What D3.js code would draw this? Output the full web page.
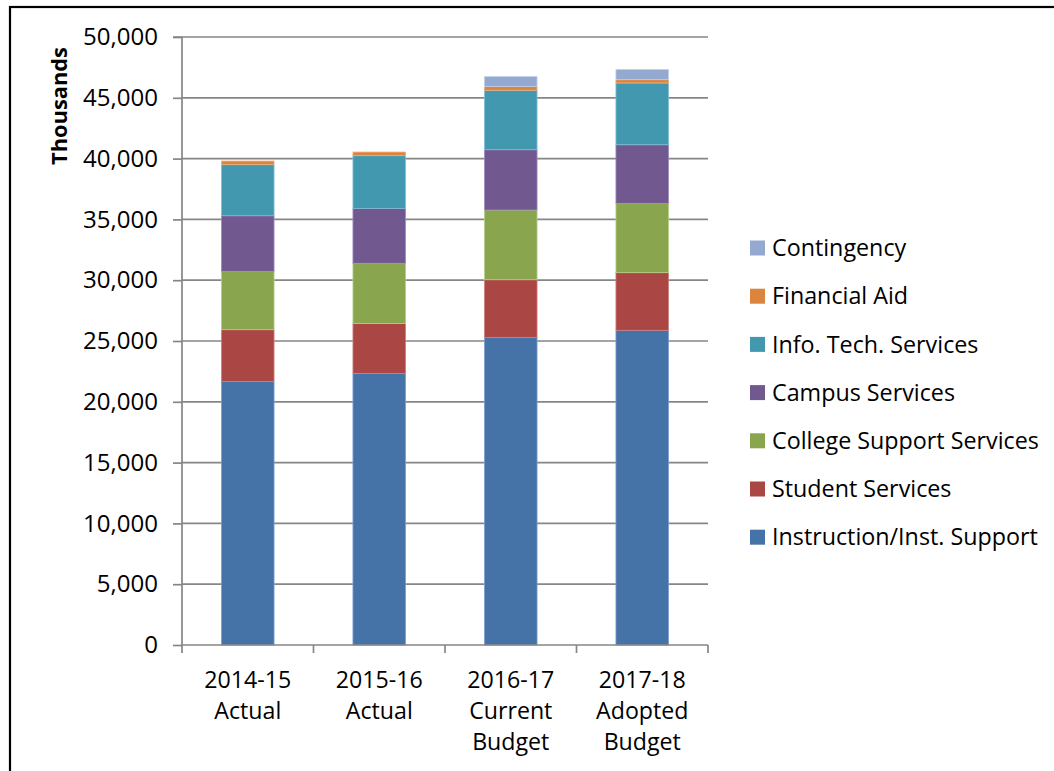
<!DOCTYPE html>
<html>
<head>
<meta charset="utf-8">
<script src="https://cdn.jsdelivr.net/npm/d3@7"></script>
<style>
  html, body { margin: 0; padding: 0; background: #fff; }
  svg { display: block; font-family: "Open Sans", Lato, sans-serif; }
</style>
</head>
<body>
<svg id="chart" width="1054" height="771"></svg>
<script>
// ---- Data (thousands) ----
const categories = [["2014-15", "Actual"], ["2015-16", "Actual"], ["2016-17", "Current", "Budget"], ["2017-18", "Adopted", "Budget"]];
const seriesNames = ["Instruction/Inst. Support", "Student Services", "College Support Services", "Campus Services", "Info. Tech. Services", "Financial Aid", "Contingency"];
const instruction = [21680, 22340, 25300, 25880];
const studentServices = [4250, 4090, 4740, 4740];
const collegeSupport = [4800, 4960, 5730, 5700];
const campusServices = [4570, 4520, 4960, 4820];
const infoTech = [4200, 4330, 4890, 5080];
const financialAid = [300, 300, 300, 270];
const contingency = [0, 0, 820, 840];
const yTicks = [0, 5000, 10000, 15000, 20000, 25000, 30000, 35000, 40000, 45000, 50000];
const colors = ["#4572A7", "#AA4643", "#89A54E", "#71588F", "#4198AF", "#DB843D", "#93A9CF"];
const strokes = ["#7f9fd0", "#d08080", "#b5d08a", "#a08cbf", "#7fc0d6", "#f0b080", "#c0d0ea"];

const seriesValues = [instruction, studentServices, collegeSupport, campusServices, infoTech, financialAid, contingency];
const rows = categories.map((c, i) => {
  const r = { key: c.join(" ") };
  seriesNames.forEach((s, j) => r[s] = seriesValues[j][i]);
  return r;
});
const stacked = d3.stack().keys(seriesNames)(rows);

const svg = d3.select("#chart");
const plot = { left: 182, right: 708, top: 37, bottom: 645 };

// fit a font size so that a reference text has a target width
function fitSize(sel, target, base) {
  const n = sel.node();
  const w = n.getComputedTextLength();
  return w > 0 ? base * target / w : base;
}

// outer frame
svg.append("rect").attr("x", 10).attr("y", 7).attr("width", 1100).attr("height", 800)
  .attr("fill", "none").attr("stroke", "#000").attr("stroke-width", 2.2);

const x = d3.scaleBand().domain(rows.map(r => r.key)).range([plot.left, plot.right]).paddingInner(0.6).paddingOuter(0.3);
const xOuter = d3.scaleBand().domain(rows.map(r => r.key)).range([plot.left, plot.right]);
const y = d3.scaleLinear().domain([0, 50000]).range([plot.bottom, plot.top]);

// gridlines
svg.append("g").selectAll("line").data(yTicks.filter(t => t > 0)).join("line")
  .attr("x1", plot.left).attr("x2", plot.right)
  .attr("y1", d => y(d)).attr("y2", d => y(d))
  .attr("stroke", "#868686").attr("stroke-width", 1.7);

// bars
const g = svg.append("g");
stacked.forEach((s, j) => {
  g.selectAll(null).data(s.filter(d => d[1] - d[0] > 0)).join("rect")
    .attr("x", d => x(d.data.key))
    .attr("width", x.bandwidth())
    .attr("y", d => y(d[1]))
    .attr("height", d => y(d[0]) - y(d[1]))
    .attr("fill", colors[j])
    .attr("stroke", strokes[j]).attr("stroke-width", 0.8);
});

// y axis
const yAxis = d3.axisLeft(y).tickValues(yTicks).tickSize(9).tickPadding(15)
  .tickFormat(d3.format(","));
const ya = svg.append("g").attr("transform", `translate(${plot.left},0)`).call(yAxis);
ya.attr("font-family", null).attr("font-size", null);
ya.select(".domain").attr("stroke", "#868686").attr("stroke-width", 1.7).attr("d", `M-9,${plot.top}H0V${plot.bottom}`);
ya.selectAll(".tick line").attr("stroke", "#868686").attr("stroke-width", 1.7);
ya.selectAll(".tick text").attr("font-size", 20).attr("fill", "#000");
{
  const top = ya.selectAll(".tick text").filter(d => d === 50000);
  const fs = fitSize(top, 75, 20);
  ya.selectAll(".tick text").attr("font-size", fs);
}

// x axis
const xa = svg.append("g").attr("transform", `translate(0,${plot.bottom})`);
xa.append("line").attr("x1", plot.left).attr("x2", plot.right).attr("stroke", "#868686").attr("stroke-width", 1.7);
const bounds = rows.map(r => xOuter(r.key)).concat([plot.right]);
xa.selectAll(".xt").data(bounds).join("line").attr("class", "xt")
  .attr("x1", d => d).attr("x2", d => d).attr("y1", 0).attr("y2", 8)
  .attr("stroke", "#868686").attr("stroke-width", 1.7);
const lab = xa.selectAll(".xl").data(categories).join("text").attr("class", "xl")
  .attr("text-anchor", "middle").attr("font-size", 21).attr("fill", "#000")
  .attr("transform", (d, i) => `translate(${xOuter(rows[i].key) + xOuter.bandwidth() / 2},0)`);
lab.selectAll("tspan").data(d => d).join("tspan")
  .attr("x", 0).attr("y", (d, i) => 43 + i * 31).text(d => d);
{
  const t = xa.select(".xl tspan");
  const fs = fitSize(t, 87, 21);
  lab.attr("font-size", fs);
}

// y title
const title = svg.append("text").attr("transform", "translate(67,106) rotate(-90)")
  .attr("text-anchor", "middle").attr("font-size", 20).attr("font-weight", "bold")
  .attr("fill", "#000").text("Thousands");
title.attr("font-size", fitSize(title, 118, 20));

// legend
const legendOrder = seriesNames.map((s, j) => j).reverse();
const lg = svg.append("g");
const legTexts = [];
legendOrder.forEach((j, k) => {
  const cy = 248 + k * 48.2;
  lg.append("rect").attr("x", 750).attr("y", cy - 7.5).attr("width", 15).attr("height", 15).attr("fill", colors[j]);
  legTexts.push(lg.append("text").attr("x", 772).attr("y", cy).attr("dy", "0.35em")
    .attr("font-size", 21).attr("fill", "#000").text(seriesNames[j]));
});
{
  const longest = legTexts[legTexts.length - 1];
  const fs = fitSize(longest, 266, 21);
  legTexts.forEach(t => t.attr("font-size", fs));
}
</script>
</body>
</html>
